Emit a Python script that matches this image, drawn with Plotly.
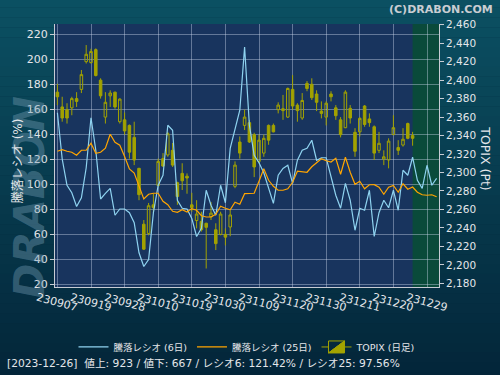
import plotly.graph_objects as go

# ---------------- data ----------------
dates = [
    "230907", "230908", "230911", "230912", "230913", "230914", "230915", "230919",
    "230920", "230921", "230922", "230925", "230926", "230927", "230928", "230929",
    "231002", "231003", "231004", "231005", "231006", "231010", "231011", "231012",
    "231013", "231016", "231017", "231018", "231019", "231020", "231023", "231024",
    "231025", "231026", "231027", "231030", "231031", "231101", "231102", "231106",
    "231107", "231108", "231109", "231110", "231113", "231114", "231115", "231116",
    "231117", "231120", "231121", "231122", "231124", "231127", "231128", "231129",
    "231130", "231201", "231204", "231205", "231206", "231207", "231208", "231211",
    "231212", "231213", "231214", "231215", "231218", "231219", "231220", "231221",
    "231222", "231225", "231226", "231227", "231228", "231229", "240104", "240105",
]

ratio6 = [
    157, 120, 99, 93, 82, 89, 113, 153, 127, 88,
    92.5, 96.5, 75, 80, 80, 77, 69, 45, 34, 39.5,
    77, 99, 107, 147, 143, 87, 80.6, 80, 72.5, 58,
    64.5, 95, 83, 75, 99, 85, 128.5, 144.6, 159, 209.5,
    147, 123, 117, 109, 96.5, 84.5, 107, 112.5, 115, 100.5,
    119, 127, 128.5, 135, 119, 121, 121, 107, 91, 80.6,
    100.5, 87, 63, 80.6, 79, 95, 58, 77, 87, 81,
    95, 79, 111, 107, 121.42, 103, 96.5, 115, 99, 104.5,
]

ratio25 = [
    126.2, 127.4, 126.2, 125.4, 123, 127, 127, 132.6, 124.6, 125.4,
    128.6, 139.8, 133.4, 131, 122, 112, 108.8, 99, 88, 91.8,
    92.6, 92.6, 86.2, 83.4, 78.2, 77.4, 79.4, 77.6, 80.3, 79,
    74.6, 73.6, 73.6, 75.8, 82.2, 80.6, 79.4, 85.4, 83.8, 92.3,
    92.3, 92.6, 102.2, 112.2, 103, 98.2, 95, 95, 96.2, 101.4,
    110.2, 109.6, 109.4, 113.8, 117, 120.2, 118.6, 117.6, 120.6, 107.8,
    121.4, 109.4, 99.8, 102.2, 96.2, 99.4, 99.5, 97.4, 91.8, 97.4,
    98.9, 93.4, 100.2, 95.8, 97.56, 93.4, 91.4, 91, 91.4, 89.8,
]

topix_open = [
    2387, 2371, 2368, 2370, 2380, 2390, 2420, 2419, 2433, 2400,
    2360, 2383, 2387, 2355, 2357, 2351, 2338, 2304.5, 2244, 2234,
    2265, 2286, 2315, 2319, 2324, 2289, 2299, 2296, 2265, 2248,
    2247, 2245, 2252, 2238, 2233, 2233, 2241, 2285, 2333, 2351,
    2354, 2341, 2312, 2321, 2351, 2351, 2368, 2369, 2360, 2390,
    2373, 2359, 2396.5, 2395.5, 2385, 2366.5, 2360, 2385, 2370, 2357,
    2348.5, 2369.5, 2343.5, 2344, 2372, 2358, 2349.5, 2324, 2314.6, 2313.5,
    2341, 2327, 2329.7, 2353, 2340,
]
topix_high = [
    2396, 2382, 2375, 2382, 2387, 2411, 2438, 2434, 2434.4, 2402,
    2387, 2389, 2387.5, 2380.3, 2365, 2352, 2355, 2305, 2248.5, 2267,
    2277, 2315, 2321, 2344, 2332, 2290, 2310, 2299, 2278, 2270,
    2257.5, 2245.6, 2268, 2245, 2257.5, 2239.5, 2259, 2312, 2339, 2368,
    2357, 2343, 2341, 2341, 2352, 2353, 2376, 2384, 2392, 2405.5,
    2375, 2386, 2399, 2402, 2389, 2377, 2377, 2388, 2373, 2360,
    2389, 2373, 2348, 2360, 2373, 2364, 2351, 2344, 2324, 2337,
    2362, 2335, 2348, 2354, 2344,
]
topix_low = [
    2373, 2355, 2353, 2362, 2371, 2386, 2418, 2418, 2404, 2380,
    2353, 2371, 2369, 2353, 2341, 2315, 2308, 2270, 2216, 2232,
    2256, 2285, 2306, 2317, 2306, 2265, 2281, 2277, 2257.5, 2239.5,
    2236, 2196, 2248.5, 2216, 2232, 2221, 2231, 2283, 2315, 2346,
    2332, 2295, 2310, 2317, 2330, 2343.5, 2364, 2357, 2359, 2368,
    2355, 2357, 2388, 2378.5, 2366.5, 2358.6, 2351, 2377, 2357, 2338,
    2348, 2353, 2317, 2339, 2349.5, 2349.5, 2313.5, 2321, 2308, 2304.5,
    2340.6, 2319, 2328, 2336, 2329,
]
topix_close = [
    2382, 2359, 2359, 2380, 2377, 2406, 2428, 2431, 2405, 2383,
    2376, 2386, 2371, 2379.5, 2345, 2322, 2313.5, 2276, 2217, 2264,
    2262, 2312, 2307, 2342, 2308, 2274, 2291, 2294, 2262, 2255,
    2238, 2240.6, 2256, 2223, 2255, 2230, 2254, 2308, 2321, 2360,
    2333, 2306, 2335, 2337, 2335, 2344, 2373, 2367, 2391, 2372,
    2367, 2378, 2391, 2381, 2376, 2364, 2375, 2382, 2361.5, 2341,
    2387, 2359, 2323, 2358.6, 2352, 2354, 2321, 2331.6, 2317, 2334,
    2348.5, 2324, 2336, 2337, 2337,
]

tick_labels = dates[::7]
current_date = "231226"
legend_names = ["騰落レシオ (6日)", "騰落レシオ (25日)", "TOPIX (日足)"]
footer_text = "[2023-12-26]  値上: 923 / 値下: 667 / レシオ6: 121.42% / レシオ25: 97.56%"

# ---------------- figure ----------------
FONT = "DejaVu Sans, Noto Sans CJK JP, sans-serif"
OLIVE = "#a3a300"
GRID = "rgba(205,215,235,0.42)"
AXIS = "#c8ccd4"
TXT = "#e4e6ea"

fig = go.Figure()

fig.add_trace(go.Candlestick(
    x=dates[:len(topix_open)], open=topix_open, high=topix_high,
    low=topix_low, close=topix_close, name=legend_names[2], yaxis="y",
    increasing=dict(line=dict(color=OLIVE, width=1), fillcolor="rgba(0,0,0,0)"),
    decreasing=dict(line=dict(color=OLIVE, width=1), fillcolor=OLIVE),
    whiskerwidth=0, legendrank=3, hoverinfo="skip",
))
fig.add_trace(go.Scatter(
    x=dates, y=ratio6, mode="lines", name=legend_names[0], yaxis="y2",
    line=dict(color="#8fd3f0", width=1.2), legendrank=1,
))
fig.add_trace(go.Scatter(
    x=dates, y=ratio25, mode="lines", name=legend_names[1], yaxis="y2",
    line=dict(color="#ffa500", width=1.2), legendrank=2,
))

# background gradient (paper)
shapes = []
N = 40
top_c = (11, 80, 98)
bot_c = (3, 36, 56)
for k in range(N):
    t = k / (N - 1)
    c = tuple(int(round(top_c[j] + (bot_c[j] - top_c[j]) * t)) for j in range(3))
    shapes.append(dict(type="rect", xref="paper", yref="paper",
                       x0=-0.2, x1=1.2, y0=1.1 - (k + 1) * (1.5 / N) - 0.001,
                       y1=1.1 - k * (1.5 / N),
                       fillcolor="rgb(%d,%d,%d)" % c, line=dict(width=0), layer="below"))
# plot area and highlighted region
shapes.append(dict(type="rect", xref="x domain", yref="y domain", x0=0, x1=1, y0=0, y1=1,
                   fillcolor="#18345e", line=dict(width=0), layer="below"))
shapes.append(dict(type="rect", xref="x", yref="y domain", x0=dates.index(current_date),
                   x1=len(dates) - 0.5, y0=0, y1=1,
                   fillcolor="#0a4a3a", line=dict(width=0), layer="below"))

annotations = []
# watermark
annotations.append(dict(text="<b><i>DRABON</i></b>", xref="paper", yref="paper",
                        x=-0.065, y=0.34, xanchor="center", yanchor="middle",
                        textangle=-90, showarrow=False,
                        font=dict(family="DejaVu Sans", size=42, color="rgba(115,155,178,0.42)")))
# x tick labels (placed at category index)
for lab in tick_labels:
    annotations.append(dict(text=lab, x=dates.index(lab), xref="x", y=0, yref="paper",
                            xanchor="center", yanchor="top", yshift=-1, textangle=15,
                            showarrow=False, font=dict(family=FONT, size=11, color=TXT)))
# axis titles
annotations.append(dict(text="騰落レシオ (%)", xref="paper", yref="paper", x=-0.098, y=0.48,
                        xanchor="center", yanchor="middle", textangle=-90, showarrow=False,
                        font=dict(family=FONT, size=12, color=TXT)))
annotations.append(dict(text="TOPIX (Pt)", xref="paper", yref="paper", x=1.122, y=0.49,
                        xanchor="center", yanchor="middle", textangle=90, showarrow=False,
                        font=dict(family=FONT, size=12.5, color=TXT)))
# copyright
annotations.append(dict(text="<b>(C)DRABON.COM</b>", xref="paper", yref="paper", x=1.146, y=1.057,
                        xanchor="right", yanchor="middle", showarrow=False,
                        font=dict(family=FONT, size=11, color="#c9cdd2")))
# footer
annotations.append(dict(text=footer_text, xref="paper", yref="paper", x=-0.130, y=-0.289,
                        xanchor="left", yanchor="middle", showarrow=False,
                        font=dict(family=FONT, size=10.7, color=TXT)))

fig.update_layout(
    width=500, height=375,
    margin=dict(l=55, r=61, t=24, b=88),
    paper_bgcolor="#04283c", plot_bgcolor="#18345e",
    font=dict(family=FONT, size=11, color=TXT),
    boxgap=0.25,
    shapes=shapes, annotations=annotations,
    showlegend=True,
    legend=dict(orientation="h", x=0.5, xanchor="center", y=-0.228, yanchor="middle",
                bgcolor="rgba(0,0,0,0)", font=dict(family=FONT, size=9.5, color=TXT),
                itemwidth=30, tracegroupgap=0),
    xaxis=dict(type="category", range=[-0.5, len(dates) - 0.5], tickvals=tick_labels,
               showticklabels=False, showgrid=True, gridcolor=GRID, gridwidth=1,
               showline=True, linecolor=AXIS, linewidth=1, ticks="",
               rangeslider=dict(visible=False), fixedrange=True),
    yaxis=dict(side="right", range=[2176, 2460.8], tick0=2180, dtick=20, tickformat=",d",
               showgrid=False, zeroline=False, ticks="outside", ticklen=4, tickcolor=AXIS,
               showline=True, linecolor=AXIS, linewidth=1,
               tickfont=dict(family=FONT, size=10.5, color=TXT)),
    yaxis2=dict(side="left", overlaying="y", range=[17.6, 228], tick0=20, dtick=20,
                showgrid=True, gridcolor=GRID, gridwidth=1, zeroline=False,
                ticks="outside", ticklen=4, tickcolor=AXIS,
                showline=True, linecolor=AXIS, linewidth=1,
                tickfont=dict(family=FONT, size=11, color=TXT)),
)

fig.write_html("out.html", config={"displayModeBar": False},
               post_script="document.body.style.margin='0';")
